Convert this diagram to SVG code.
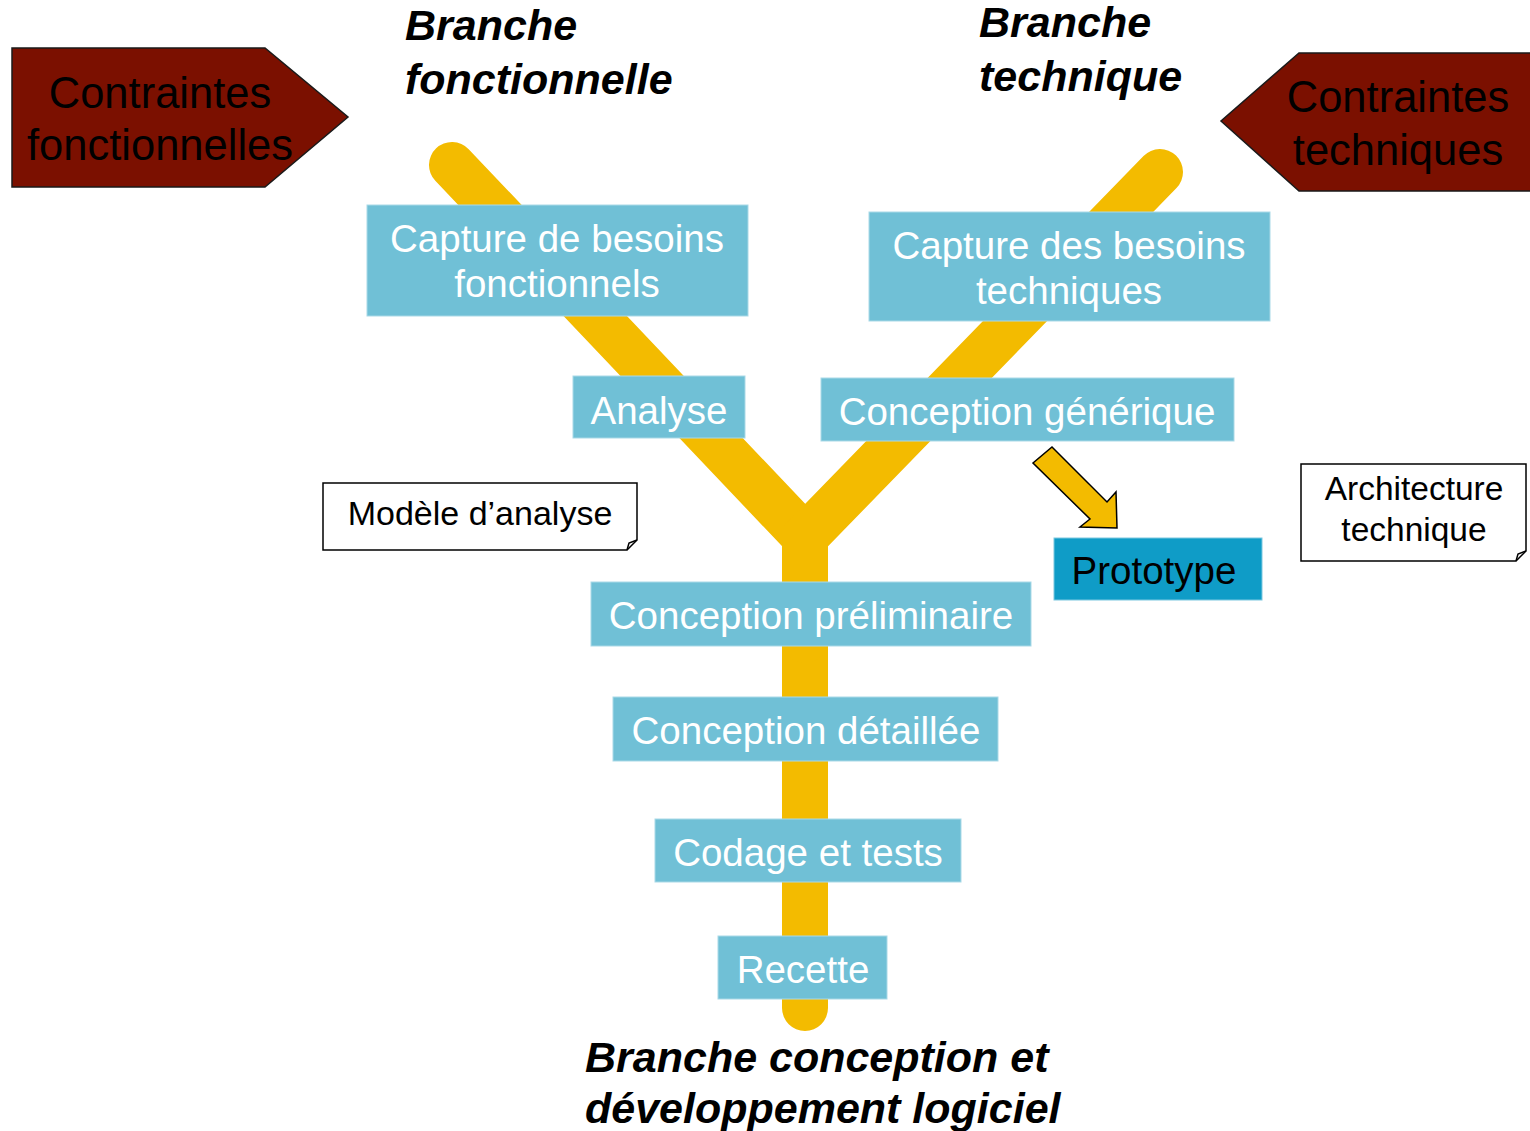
<svg xmlns="http://www.w3.org/2000/svg" width="1530" height="1131" viewBox="0 0 1530 1131">
<style>
text{font-family:"Liberation Sans",Arial,sans-serif}
.box{fill:#70C0D6;stroke:#a9d9e7;stroke-width:1}
.bt{fill:#ffffff;font-size:38.5px;text-anchor:middle}
.title{fill:#000;font-size:43px;font-weight:bold;font-style:italic}
.penta{fill:#7B1000;stroke:#1a1a1a;stroke-width:1.5}
.pt{fill:#000;font-size:43.5px;text-anchor:middle}
.note{fill:#fff;stroke:#000;stroke-width:1.5}
.nt{fill:#000;font-size:33.5px;text-anchor:middle}
.trunk{fill:none;stroke:#F3BB00;stroke-width:46;stroke-linecap:round;stroke-linejoin:miter}
</style>
<rect width="1530" height="1131" fill="#fff"/>
<g id="connectors">
<path class="trunk" d="M452,165 L805,537 L805,1008"/>
<path class="trunk" d="M1160,172 L805,537 L805,640"/>
<polygon id="arrow-prototype" points="1052,447 1107,502 1116,492 1117,528 1080,527 1090,519 1033,463" fill="#F3BB00" stroke="#000" stroke-width="1.5" stroke-linejoin="miter"/>
</g>
<g id="contraintes-fonctionnelles">
<polygon class="penta" points="12,48 265,48 348,117 265,187 12,187"/>
<text class="pt" x="160" y="108">Contraintes</text>
<text class="pt" x="160" y="160">fonctionnelles</text>
</g>
<g id="contraintes-techniques">
<polygon class="penta" points="1299,53 1531,53 1531,191 1299,191 1221,121"/>
<text class="pt" x="1398" y="112">Contraintes</text>
<text class="pt" x="1398" y="165">techniques</text>
</g>
<g id="titre-fonctionnelle">
<text class="title" x="405" y="40">Branche</text>
<text class="title" x="405" y="94">fonctionnelle</text>
</g>
<g id="titre-technique">
<text class="title" x="979" y="37">Branche</text>
<text class="title" x="979" y="91">technique</text>
</g>
<g id="titre-conception">
<text class="title" x="585" y="1072">Branche conception et</text>
<text class="title" x="585" y="1123">développement logiciel</text>
</g>
<g id="capture-fonctionnels">
<rect class="box" x="367" y="205" width="381" height="111"/>
<text class="bt" x="557" y="252">Capture de besoins</text>
<text class="bt" x="557" y="297">fonctionnels</text>
</g>
<g id="capture-techniques">
<rect class="box" x="869" y="212" width="401" height="109"/>
<text class="bt" x="1069" y="259">Capture des besoins</text>
<text class="bt" x="1069" y="304">techniques</text>
</g>
<g id="analyse">
<rect class="box" x="573" y="376" width="172" height="62"/>
<text class="bt" x="659" y="424">Analyse</text>
</g>
<g id="conception-generique">
<rect class="box" x="821" y="378" width="413" height="63"/>
<text class="bt" x="1027" y="425">Conception générique</text>
</g>
<g id="prototype">
<rect x="1054" y="538" width="208" height="62" fill="#0F9CC7" stroke="#7cc8e0" stroke-width="1"/>
<text class="bt" x="1154" y="584" style="fill:#000">Prototype</text>
</g>
<g id="conception-preliminaire">
<rect class="box" x="591" y="582" width="440" height="64"/>
<text class="bt" x="811" y="629">Conception préliminaire</text>
</g>
<g id="conception-detaillee">
<rect class="box" x="613" y="697" width="385" height="64"/>
<text class="bt" x="806" y="744">Conception détaillée</text>
</g>
<g id="codage-tests">
<rect class="box" x="655" y="819" width="306" height="63"/>
<text class="bt" x="808" y="866">Codage et tests</text>
</g>
<g id="recette">
<rect class="box" x="718" y="936" width="169" height="63"/>
<text class="bt" x="803" y="983">Recette</text>
</g>
<g id="modele-analyse">
<path class="note" d="M323,483 H637 V540 L627,550 H323 Z"/>
<path d="M637,540 L629,543 L627,550" fill="none" stroke="#000" stroke-width="1.5"/>
<text class="nt" x="480" y="525" style="font-size:34px">Modèle d’analyse</text>
</g>
<g id="architecture-technique">
<path class="note" d="M1301,464 H1526 V551 L1516,561 H1301 Z"/>
<path d="M1526,551 L1518,554 L1516,561" fill="none" stroke="#000" stroke-width="1.5"/>
<text class="nt" x="1414" y="500">Architecture</text>
<text class="nt" x="1414" y="541">technique</text>
</g>
</svg>
